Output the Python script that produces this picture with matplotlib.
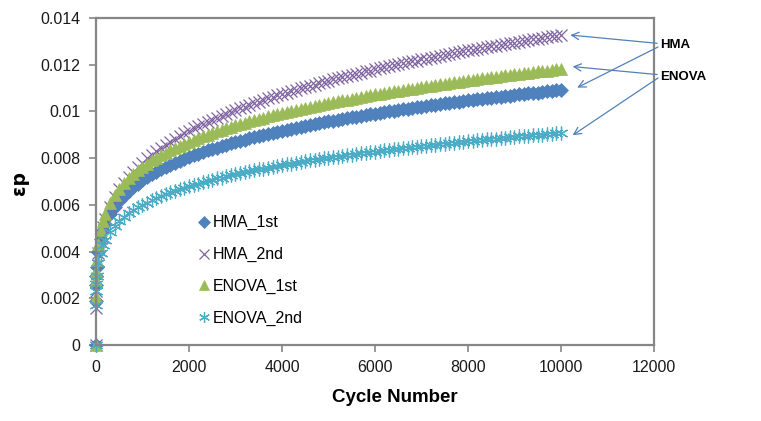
import matplotlib
matplotlib.use("Agg")
import matplotlib.pyplot as plt
from matplotlib.ticker import FixedLocator, FuncFormatter

plt.rcParams['font.family'] = ['Liberation Sans', 'DejaVu Sans']

cycles = [0, 1, 5, 10, 20, 50, 100, 150] + list(range(200, 10001, 100))

hma_1st = [0, 0.00190, 0.00258, 0.00294, 0.00335, 0.00399, 0.00455, 0.00492,
           0.00519, 0.00561, 0.00592, 0.00618, 0.00640, 0.00659, 0.00676, 0.00691, 0.00705,
           0.00718, 0.00730, 0.00741, 0.00752, 0.00762, 0.00771, 0.00780, 0.00788, 0.00796, 0.00804,
           0.00812, 0.00819, 0.00826, 0.00833, 0.00839, 0.00845, 0.00851, 0.00857, 0.00863, 0.00869,
           0.00874, 0.00879, 0.00885, 0.00890, 0.00894, 0.00899, 0.00904, 0.00909, 0.00913, 0.00917,
           0.00922, 0.00926, 0.00930, 0.00934, 0.00938, 0.00942, 0.00946, 0.00950, 0.00954, 0.00957,
           0.00961, 0.00964, 0.00968, 0.00971, 0.00975, 0.00978, 0.00981, 0.00985, 0.00988, 0.00991,
           0.00994, 0.00997, 0.01000, 0.01003, 0.01006, 0.01009, 0.01012, 0.01015, 0.01018, 0.01020,
           0.01023, 0.01026, 0.01029, 0.01031, 0.01034, 0.01037, 0.01039, 0.01042, 0.01044, 0.01047,
           0.01049, 0.01052, 0.01054, 0.01056, 0.01059, 0.01061, 0.01063, 0.01066, 0.01068, 0.01070,
           0.01073, 0.01075, 0.01077, 0.01079, 0.01081, 0.01083, 0.01086, 0.01088, 0.01090, 0.01092]

hma_2nd = [0, 0.00160, 0.00231, 0.00271, 0.00318, 0.00392, 0.00460, 0.00505,
           0.00540, 0.00592, 0.00633, 0.00666, 0.00695, 0.00720, 0.00742, 0.00763, 0.00781,
           0.00799, 0.00815, 0.00830, 0.00844, 0.00858, 0.00871, 0.00883, 0.00895, 0.00906, 0.00916,
           0.00927, 0.00937, 0.00946, 0.00956, 0.00965, 0.00973, 0.00982, 0.00990, 0.00998, 0.01006,
           0.01014, 0.01021, 0.01028, 0.01035, 0.01042, 0.01049, 0.01056, 0.01062, 0.01069, 0.01075,
           0.01081, 0.01087, 0.01093, 0.01099, 0.01104, 0.01110, 0.01115, 0.01121, 0.01126, 0.01132,
           0.01137, 0.01142, 0.01147, 0.01152, 0.01156, 0.01161, 0.01166, 0.01171, 0.01175, 0.01180,
           0.01184, 0.01189, 0.01193, 0.01198, 0.01202, 0.01206, 0.01210, 0.01214, 0.01218, 0.01223,
           0.01226, 0.01230, 0.01234, 0.01238, 0.01242, 0.01246, 0.01250, 0.01253, 0.01257, 0.01261,
           0.01264, 0.01268, 0.01271, 0.01275, 0.01278, 0.01282, 0.01285, 0.01289, 0.01292, 0.01295,
           0.01298, 0.01302, 0.01305, 0.01308, 0.01311, 0.01315, 0.01318, 0.01321, 0.01324, 0.01327]

enova_1st = [0, 0.00205, 0.00279, 0.00318, 0.00363, 0.00432, 0.00493, 0.00532,
             0.00562, 0.00607, 0.00641, 0.00669, 0.00693, 0.00713, 0.00731, 0.00748, 0.00763,
             0.00777, 0.00790, 0.00802, 0.00814, 0.00824, 0.00834, 0.00844, 0.00853, 0.00862, 0.00871,
             0.00879, 0.00887, 0.00894, 0.00901, 0.00908, 0.00915, 0.00922, 0.00928, 0.00934, 0.00940,
             0.00946, 0.00952, 0.00957, 0.00963, 0.00968, 0.00973, 0.00979, 0.00984, 0.00988, 0.00993,
             0.00998, 0.01002, 0.01007, 0.01011, 0.01016, 0.01020, 0.01024, 0.01028, 0.01032, 0.01036,
             0.01040, 0.01044, 0.01048, 0.01051, 0.01055, 0.01059, 0.01062, 0.01066, 0.01069, 0.01073,
             0.01076, 0.01079, 0.01083, 0.01086, 0.01089, 0.01092, 0.01095, 0.01098, 0.01102, 0.01105,
             0.01108, 0.01110, 0.01113, 0.01116, 0.01119, 0.01122, 0.01125, 0.01128, 0.01130, 0.01133,
             0.01136, 0.01138, 0.01141, 0.01143, 0.01146, 0.01149, 0.01151, 0.01154, 0.01156, 0.01159,
             0.01161, 0.01163, 0.01166, 0.01168, 0.01171, 0.01173, 0.01175, 0.01177, 0.01180, 0.01182]

enova_2nd = [0, 0.00173, 0.00231, 0.00262, 0.00297, 0.00350, 0.00396, 0.00426,
             0.00449, 0.00483, 0.00509, 0.00530, 0.00547, 0.00563, 0.00576, 0.00589, 0.00600,
             0.00610, 0.00620, 0.00629, 0.00637, 0.00645, 0.00653, 0.00660, 0.00667, 0.00673, 0.00680,
             0.00686, 0.00691, 0.00697, 0.00702, 0.00708, 0.00713, 0.00717, 0.00722, 0.00727, 0.00731,
             0.00735, 0.00740, 0.00744, 0.00748, 0.00752, 0.00755, 0.00759, 0.00763, 0.00766, 0.00770,
             0.00773, 0.00777, 0.00780, 0.00783, 0.00786, 0.00790, 0.00793, 0.00796, 0.00799, 0.00801,
             0.00804, 0.00807, 0.00810, 0.00813, 0.00815, 0.00818, 0.00821, 0.00823, 0.00826, 0.00828,
             0.00831, 0.00833, 0.00836, 0.00838, 0.00840, 0.00843, 0.00845, 0.00847, 0.00849, 0.00852,
             0.00854, 0.00856, 0.00858, 0.00860, 0.00862, 0.00864, 0.00866, 0.00868, 0.00870, 0.00872,
             0.00874, 0.00876, 0.00878, 0.00880, 0.00882, 0.00884, 0.00885, 0.00887, 0.00889, 0.00891,
             0.00893, 0.00894, 0.00896, 0.00898, 0.00900, 0.00901, 0.00903, 0.00905, 0.00906, 0.00908]

series_names = ["HMA_1st", "HMA_2nd", "ENOVA_1st", "ENOVA_2nd"]
x_ticks = [0, 2000, 4000, 6000, 8000, 10000, 12000]
y_ticks = [0, 0.002, 0.004, 0.006, 0.008, 0.010, 0.012, 0.014]

fig = plt.figure(figsize=(7.61, 4.21), dpi=100)
ax = fig.add_axes([96/761, 1-345/421, (654-96)/761, (345-18)/421])

c_blue, c_purple, c_green, c_cyan = "#4F81BD", "#8064A2", "#9BBB59", "#4BACC6"

ax.plot(cycles, hma_1st, linestyle='none', marker='D', markersize=7.3,
        color=c_blue, markeredgewidth=0.5, label=series_names[0], clip_on=False)
ax.plot(cycles, hma_2nd, linestyle='none', marker='x', markersize=9,
        color=c_purple, markeredgewidth=0.9, label=series_names[1], clip_on=False)
ax.plot(cycles, enova_1st, linestyle='none', marker='^', markersize=9,
        color=c_green, markeredgewidth=0.5, label=series_names[2], clip_on=False)
ax.plot(cycles, enova_2nd, linestyle='none', marker=(6, 2, 0), markersize=10,
        color=c_cyan, markeredgewidth=0.9, label=series_names[3], clip_on=False)

ax.set_xlim(0, 12000)
ax.set_ylim(0, 0.014)
ax.xaxis.set_major_locator(FixedLocator(x_ticks))
ax.yaxis.set_major_locator(FixedLocator(y_ticks))
ax.xaxis.set_major_formatter(FuncFormatter(lambda v, p: f"{v:g}"))
ax.yaxis.set_major_formatter(FuncFormatter(lambda v, p: f"{round(v, 4):g}"))

for s in ax.spines.values():
    s.set_color("#868686")
    s.set_linewidth(1.6)
ax.tick_params(axis='both', direction='out', length=5, width=1.2, color="#868686",
               labelsize=11.5, labelcolor="#1a1a1a", pad=6)

fig.text(395/761, 1-397/421, "Cycle Number", ha='center', va='center',
         fontsize=13.5, fontweight='bold')
fig.text(19/761, 1-183/421, "εp", ha='center', va='center', rotation=90,
         fontsize=13.5, fontweight='bold', family=['DejaVu Sans'])

leg = ax.legend(loc='upper left', bbox_to_anchor=(187/761, 1-204/421),
                bbox_transform=fig.transFigure, frameon=False, fontsize=11.5,
                handlelength=0.7, handletextpad=0.2, labelspacing=1.05,
                borderpad=0.2, markerscale=0.78)

arrow_kw = dict(arrowstyle='->', color="#4F81BD", lw=0.9, mutation_scale=13,
                shrinkA=0, shrinkB=0)
ax.annotate("HMA", xy=(cycles[-1] + 200, hma_2nd[-1]), xycoords='data',
            xytext=(660, 421-45), textcoords='figure pixels',
            fontsize=9.5, fontweight='bold', ha='left', va='center',
            arrowprops=arrow_kw, annotation_clip=False)
ax.annotate("", xy=(cycles[-1] + 350, hma_1st[-1] + 0.0001), xycoords='data',
            xytext=(658, 421-47), textcoords='figure pixels',
            arrowprops=arrow_kw, annotation_clip=False)
ax.annotate("ENOVA", xy=(cycles[-1] + 250, enova_1st[-1] + 0.0001), xycoords='data',
            xytext=(660, 421-77), textcoords='figure pixels',
            fontsize=9.5, fontweight='bold', ha='left', va='center',
            arrowprops=arrow_kw, annotation_clip=False)
ax.annotate("", xy=(cycles[-1] + 250, enova_2nd[-1] - 0.0001), xycoords='data',
            xytext=(658, 421-78), textcoords='figure pixels',
            arrowprops=arrow_kw, annotation_clip=False)

fig.savefig("out.png", dpi=100)
